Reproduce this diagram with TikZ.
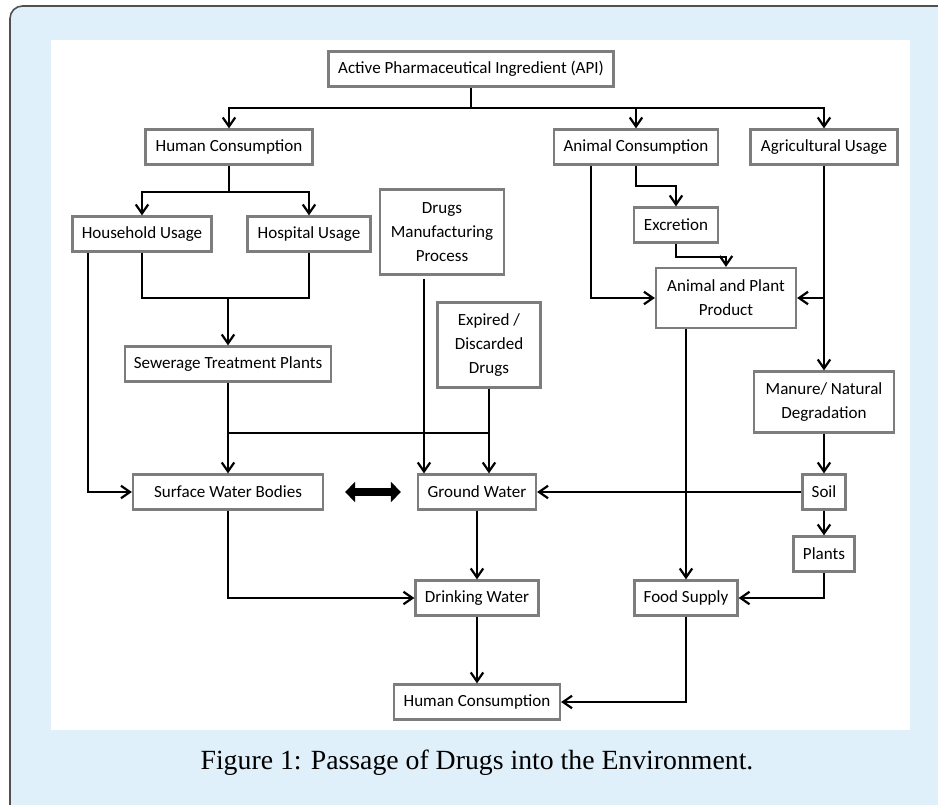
\documentclass[tikz,border=0pt]{standalone}
\usepackage{fontspec}
\setmainfont{Liberation Serif}
\newfontfamily\boxfont{Carlito}
\usetikzlibrary{arrows.meta,calc}

\definecolor{bgblue}{RGB}{223,240,250}
\definecolor{framegray}{RGB}{80,80,80}
\definecolor{boxgray}{RGB}{125,125,125}

\tikzset{
  box/.style={draw=boxgray, line width=1.3pt, fill=white, align=center, inner sep=2pt,
    minimum height=0.7cm, font=\boxfont\fontsize{9.7}{13.6}\selectfont},
  link/.style={line width=1.25pt},
  arr/.style={line width=1.25pt, -{Straight Barb[length=0.18cm,width=0.25cm]}},
  dbl/.style={line width=0.15cm, {Triangle[length=0.2cm,width=0.4cm]}-{Triangle[length=0.2cm,width=0.4cm]}},
}

\begin{document}
\begin{tikzpicture}[x=0.02cm, y=-0.02cm]

\useasboundingbox (0,0) rectangle (938,805);
\clip (0,0) rectangle (938,805);

\filldraw [draw=framegray, fill=bgblue, line width=0.9pt, rounded corners=0.25cm] (10,6) rectangle (980,840);
\fill [white] (51,40) rectangle (910,730);

\node[box, minimum width=5.7cm] (api) at (471,69) {Active Pharmaceutical Ingredient (API)};
\node[box, minimum width=3.34cm] (hc1) at (229,147) {Human Consumption};
\node[box, minimum width=3.28cm] (ac) at (636,147) {Animal Consumption};
\node[box, minimum width=2.94cm] (agr) at (824,147) {Agricultural Usage};
\node[box, minimum width=2.78cm] (hh) at (142,234) {Household Usage};
\node[box, minimum width=2.46cm] (hosp) at (309,234) {Hospital Usage};
\node[box, minimum width=2.48cm, minimum height=1.7cm] (dmp) at (442,232) {Drugs\\Manufacturing\\Process};
\node[box, minimum width=1.68cm] (exc) at (676,225) {Excretion};
\node[box, minimum width=2.8cm, minimum height=1.2cm] (app) at (726,298) {Animal and Plant\\Product};
\node[box, minimum width=2.06cm, minimum height=1.7cm] (edd) at (489,345) {Expired /\\Discarded\\Drugs};
\node[box, minimum width=4.12cm] (stp) at (228,364) {Sewerage Treatment Plants};
\node[box, minimum width=2.8cm, minimum height=1.22cm] (mnd) at (824,402) {Manure/ Natural\\Degradation};
\node[box, minimum width=3.8cm] (swb) at (228,492) {Surface Water Bodies};
\node[box, minimum width=2.36cm] (gw) at (477,492) {Ground Water};
\node[box, minimum width=0.86cm] (soil) at (824,492) {Soil};
\node[box, minimum width=1.22cm] (plants) at (824,554) {Plants};
\node[box, minimum width=2.46cm] (dw) at (477,598) {Drinking Water};
\node[box, minimum width=2.06cm] (fs) at (686,598) {Food Supply};
\node[box, minimum width=3.32cm] (hc2) at (477,702) {Human Consumption};

\node[font=\fontsize{15.8}{19}\selectfont] (cap) at (477,763) {Figure 1: Passage of Drugs into the Environment.};

\coordinate (apij) at ($(api.south)+(0,20)$);
\coordinate (hcj) at ($(hc1.south)+(0,26)$);
\coordinate (stpj) at (stp.north |- 0,298);
\coordinate (swj) at (stp.south |- 0,433);
\coordinate (gwj) at (edd.south |- 0,433);
\coordinate (hho) at ($(hh.south west)+(17,0)$);
\coordinate (dmpo) at ($(dmp.south)+(-18,3)$);
\coordinate (aco) at ($(ac.south)+(-45,0)$);
\coordinate (appo) at (fs.north |- app.south);

\begin{scope}[link]
\draw (api.south) -- (apij); %api
\draw (hc1.south) -- (hcj); %hc1
\draw (hh.south) |- (stpj) -| (hosp.south); %hh-hosp
\draw (swj) -- (gwj); %stp-edd
\end{scope}

\begin{scope}[arr]
\draw (apij) -| (hc1.north); %api-hc1
\draw (apij) -| (ac.north); %api-ac
\draw (apij) -| (agr.north); %api-agr
\draw (hcj) -| (hh.north); %hc1-hh
\draw (hcj) -| (hosp.north); %hc1-hosp
\draw (stpj) -- (stp.north); %hh-stp
\draw (hho) |- (swb.west); %hh-swb
\draw (stp.south) -- (swb.north); %stp-swb
\draw (edd.south) -- (edd.south |- gw.north); %edd-gw
\draw (dmpo) -- (dmpo |- gw.north); %dmp-gw
\draw (aco) |- (app.west); %ac-app
\draw (ac.south) -- ++(0,20) -| (exc.north); %ac-exc
\draw (exc.south) -- ++(0,13) -| (app.north); %exc-app
\draw (agr.south) -- (mnd.north); %agr-mnd
\draw (agr.south |- app.east) -- (app.east); %agr-app
\draw (appo) -- (fs.north); %app-fs
\draw (mnd.south) -- (soil.north); %mnd-soil
\draw (soil.south) -- (plants.north); %soil-plants
\draw (soil.west) -- (gw.east); %soil-gw
\draw (plants.south) |- (fs.east); %plants-fs
\draw (swb.south) |- (dw.west); %swb-dw
\draw (gw.south) -- (dw.north); %gw-dw
\draw (dw.south) -- (hc2.north); %dw-hc2
\draw (fs.south) |- (hc2.east); %fs-hc2
\end{scope}

\draw[dbl, shorten <=0.42cm, shorten >=0.32cm] (swb) -- (gw); %swb-gw

\end{tikzpicture}
\end{document}
